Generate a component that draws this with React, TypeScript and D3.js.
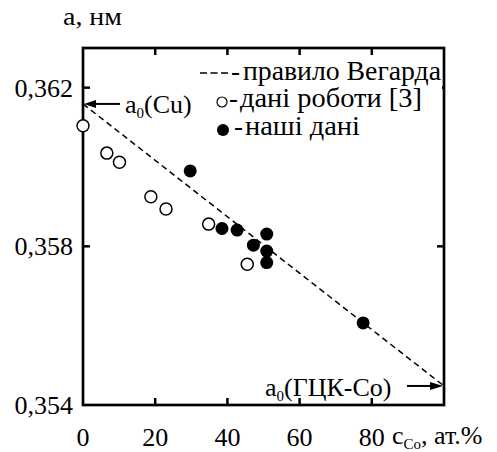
import React from "react";
import * as d3 from "d3";

const openX = [0, 6.6, 10.1, 18.8, 23.0, 34.8, 45.5];
const openY = [0.36104, 0.36035, 0.36012, 0.35925, 0.35894, 0.35856, 0.35755];
const filledX = [29.7, 38.5, 42.7, 47.2, 50.9, 50.9, 50.9, 77.6];
const filledY = [0.3599, 0.35845, 0.35841, 0.35803, 0.35831, 0.35788, 0.35759, 0.35607];
const vegardX = [0, 100];
const vegardY = [0.36159, 0.35448];
const xTicks = [0, 20, 40, 60, 80];
const yTicks = [0.362, 0.358, 0.354];
const yTickLabels = ["0,362", "0,358", "0,354"];
const legendLabels = ["правило Вегарда", "дані роботи [3]", "наші  дані"];

const FONT = "Liberation Serif";

export default function App() {
  const W = 497, H = 452;
  const x = d3.scaleLinear().domain([0, 100]).range([83, 444]);
  const y = d3.scaleLinear().domain([0.354, 0.363]).range([405, 48]);
  const [x0, x1] = x.range();
  const [yb, yt] = y.range();
  const tick = 7;
  const line = d3.line<number>().x((_, i) => x(vegardX[i])).y((d) => y(d));
  const ts = { fontFamily: FONT };
  const fs = 26;
  const lfs = 27;
  return (
    <svg width={W} height={H} style={{ position: "absolute", left: 0, top: 0, fontFamily: FONT }}>
      <rect width={W} height={H} fill="white" />
      <text style={ts} x={63} y={25} fontSize={fs} textLength={59} lengthAdjust="spacingAndGlyphs">а, нм</text>
      <path d={line(vegardY) || ""} fill="none" stroke="black" strokeWidth={1.5} strokeDasharray="6,4" />
      {xTicks.filter((t) => t > 0).map((t) => (
        <g key={"xt" + t}>
          <line x1={x(t)} x2={x(t)} y1={yb} y2={yb - tick} stroke="black" strokeWidth={2.5} />
          <line x1={x(t)} x2={x(t)} y1={yt} y2={yt + tick} stroke="black" strokeWidth={2.5} />
        </g>
      ))}
      {yTicks.filter((t) => t > 0.354).map((t) => (
        <g key={"yt" + t}>
          <line x1={x0} x2={x0 + tick} y1={y(t)} y2={y(t)} stroke="black" strokeWidth={2.5} />
          <line x1={x1} x2={x1 - tick} y1={y(t)} y2={y(t)} stroke="black" strokeWidth={2.5} />
        </g>
      ))}
      <rect x={196} y={60} width={246} height={80} fill="white" />
      <line x1={200} x2={228} y1={73} y2={73} stroke="black" strokeWidth={1.5} strokeDasharray="7,3.5" />
      <text style={ts} x={231} y={80} fontSize={lfs}>-</text>
      <text style={ts} x={243} y={80} fontSize={lfs} textLength={198} lengthAdjust="spacingAndGlyphs">{legendLabels[0]}</text>
      <circle cx={222} cy={102} r={5} fill="white" stroke="black" strokeWidth={1.2} />
      <text style={ts} x={229} y={107} fontSize={lfs}>-</text>
      <text style={ts} x={240} y={107} fontSize={lfs} textLength={182} lengthAdjust="spacingAndGlyphs">{legendLabels[1]}</text>
      <circle cx={223} cy={130} r={6} fill="black" />
      <text style={ts} x={234} y={135} fontSize={lfs}>-</text>
      <text style={ts} x={245} y={135} fontSize={lfs} textLength={115} lengthAdjust="spacingAndGlyphs">{legendLabels[2]}</text>
      <rect x={x0} y={yt} width={x1 - x0} height={yb - yt} fill="none" stroke="black" strokeWidth={2.7} />
      {openX.map((v, i) => (
        <circle key={"o" + i} cx={x(v)} cy={y(openY[i])} r={6} fill="white" stroke="black" strokeWidth={1.5} />
      ))}
      {filledX.map((v, i) => (
        <circle key={"f" + i} cx={x(v)} cy={y(filledY[i])} r={6.5} fill="black" />
      ))}
      <line x1={120} x2={92} y1={y(vegardY[0])} y2={y(vegardY[0])} stroke="black" strokeWidth={2} />
      <path d={`M${x0 + 1},${y(vegardY[0])} l12,-4 l0,8 z`} fill="black" />
      <text style={ts} x={125} y={113} fontSize={fs}>a<tspan fontSize={15} dy={5}>0</tspan><tspan dy={-5}>(Cu)</tspan></text>
      <line x1={407} x2={432} y1={y(vegardY[1])} y2={y(vegardY[1])} stroke="black" strokeWidth={2} />
      <path d={`M${x1 - 1},${y(vegardY[1])} l-13,-4 l0,8 z`} fill="black" />
      <text style={ts} x={265} y={396} fontSize={fs}>a<tspan fontSize={15} dy={5}>0</tspan><tspan dy={-5}>(ГЦК-Со)</tspan></text>
      {xTicks.map((t) => (
        <text style={ts} key={"xl" + t} x={x(t)} y={446} fontSize={fs} textAnchor="middle">{t}</text>
      ))}
      {yTicks.map((t, i) => (
        <text style={ts} key={"yl" + t} x={73} y={y(t) + 9} fontSize={fs} textAnchor="end">{yTickLabels[i]}</text>
      ))}
      <text style={ts} x={392} y={444} fontSize={fs}>c<tspan fontSize={15} dy={5}>Co</tspan><tspan dy={-5}>, ат.%</tspan></text>
    </svg>
  );
}
